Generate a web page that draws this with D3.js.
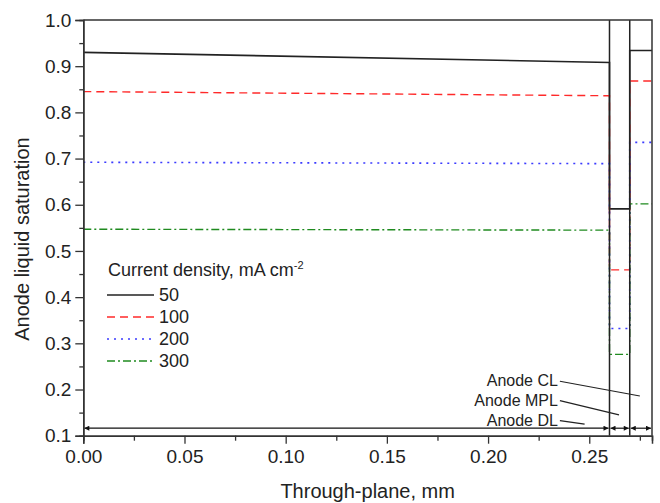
<!DOCTYPE html>
<html>
<head>
<meta charset="utf-8">
<script src="https://cdn.jsdelivr.net/npm/d3@7"></script>
<style>
  html, body { margin: 0; padding: 0; background: #fff; }
  svg { display: block; font-family: "Liberation Sans", Arial, sans-serif; }
</style>
</head>
<body>
<div id="chart"></div>
<script>
// Through-plane positions (mm): diffusion layer, microporous layer, catalyst layer
const xPos = [0, 0.26, 0.26, 0.27, 0.27, 0.281];

// Anode liquid saturation for each current density
const sat50  = [0.930, 0.908, 0.591, 0.591, 0.934, 0.934];
const sat100 = [0.845, 0.836, 0.459, 0.459, 0.868, 0.868];
const sat200 = [0.692, 0.689, 0.332, 0.332, 0.735, 0.735];
const sat300 = [0.547, 0.545, 0.276, 0.276, 0.602, 0.602];

const seriesNames = ["50", "100", "200", "300"];
const seriesValues = [sat50, sat100, sat200, sat300];

// Layer boundaries
const layerEdges = [0, 0.26, 0.27, 0.281];
const layerNames = ["Anode DL", "Anode MPL", "Anode CL"];

const yTicks = [0.1, 0.2, 0.3, 0.4, 0.5, 0.6, 0.7, 0.8, 0.9, 1.0];
const xTicks = [0.00, 0.05, 0.10, 0.15, 0.20, 0.25];

const width = 660, height = 503;
const margin = { top: 20, right: 8, bottom: 67.3, left: 83.3 };

const svg = d3.select("#chart").append("svg")
    .attr("width", width)
    .attr("height", height);

const x = d3.scaleLinear().domain([0, 0.281]).range([margin.left, width - margin.right]);
const y = d3.scaleLinear().domain([0.1, 1.0]).range([height - margin.bottom, margin.top]);

const styles = [
    { color: "#222", dash: null, w: 1.6 },
    { color: "#ff2a2a", dash: "8,5", w: 1.4 },
    { color: "#3b3bff", dash: "2,5", w: 1.6 },
    { color: "#1f8a1f", dash: "8,3,2,3", w: 1.4 }
];

// Arrow markers
const defs = svg.append("defs");
["start", "end"].forEach(k => {
    defs.append("marker")
        .attr("id", "arr-" + k)
        .attr("viewBox", "0 0 10 10")
        .attr("refX", k === "end" ? 10 : 0).attr("refY", 5)
        .attr("markerWidth", 7).attr("markerHeight", 5)
        .attr("markerUnits", "userSpaceOnUse")
        .attr("orient", "auto")
        .append("path")
        .attr("d", k === "end" ? "M0,0L10,5L0,10Z" : "M10,0L0,5L10,10Z")
        .attr("fill", "#111");
});

// Curves
const line = d3.line().x((d, i) => x(xPos[i])).y(d => y(d));
seriesValues.forEach((vals, i) => {
    svg.append("path")
        .datum(vals)
        .attr("d", line)
        .attr("fill", "none")
        .attr("stroke", styles[i].color)
        .attr("stroke-width", styles[i].w)
        .attr("stroke-dasharray", styles[i].dash);
});

// Layer boundary lines
layerEdges.slice(1, 3).forEach(e => {
    svg.append("line")
        .attr("x1", x(e)).attr("x2", x(e))
        .attr("y1", y(1.0)).attr("y2", y(0.1))
        .attr("stroke", "#222").attr("stroke-width", 1.5);
});

// Layer thickness arrows
const arrowY = y(0.1) - 7.5;
for (let i = 0; i < 3; i++) {
    svg.append("line")
        .attr("x1", x(layerEdges[i]) + 1).attr("x2", x(layerEdges[i + 1]) - 1)
        .attr("y1", arrowY).attr("y2", arrowY)
        .attr("stroke", "#111").attr("stroke-width", 1.2)
        .attr("marker-start", "url(#arr-start)")
        .attr("marker-end", "url(#arr-end)");
}

// Axes
const yAxis = d3.axisLeft(y).tickValues(yTicks).tickFormat(d3.format(".1f")).tickSize(8).tickPadding(4);
const yMinor = d3.axisLeft(y).tickValues(d3.range(0.15, 1.0, 0.1)).tickFormat("").tickSize(4);
const xAxis = d3.axisBottom(x).tickValues(xTicks).tickFormat(d3.format(".2f")).tickSize(8).tickPadding(6);
const xMinor = d3.axisBottom(x).tickValues(d3.range(0.025, 0.28, 0.05)).tickFormat("").tickSize(5);

function styleAxis(g) {
    g.select(".domain").attr("stroke", "#333").attr("stroke-width", 1.5);
    g.selectAll(".tick line").attr("stroke", "#333").attr("stroke-width", 1.3);
    g.selectAll(".tick text").attr("fill", "#222").style("font-size", "19px");
}

svg.append("g").attr("transform", `translate(${margin.left},0)`).call(yAxis).call(styleAxis);
svg.append("g").attr("transform", `translate(${margin.left},0)`).call(yMinor).call(styleAxis);
svg.append("g").attr("transform", `translate(0,${height - margin.bottom})`).call(xAxis).call(styleAxis);
svg.append("g").attr("transform", `translate(0,${height - margin.bottom})`).call(xMinor).call(styleAxis);

// Frame top and right
svg.append("path")
    .attr("d", `M${x(0)},${y(1)}H${x(0.281)}V${y(0.1)}`)
    .attr("fill", "none").attr("stroke", "#333").attr("stroke-width", 1.5);

// Axis titles
svg.append("text")
    .attr("x", (x(0) + x(0.281)) / 2).attr("y", 498)
    .attr("text-anchor", "middle")
    .style("font-size", "20px").attr("fill", "#222")
    .text("Through-plane, mm");

svg.append("text")
    .attr("transform", "translate(29,239) rotate(-90)")
    .attr("text-anchor", "middle")
    .style("font-size", "20px").attr("fill", "#222")
    .text("Anode liquid saturation");

// Legend
const legend = svg.append("g").attr("transform", "translate(107,276)");
const lt = legend.append("text").attr("x", 1).attr("y", 0)
    .style("font-size", "18px").attr("fill", "#222");
lt.append("tspan").text("Current density, mA cm");
lt.append("tspan").attr("dy", -7).style("font-size", "11px").text("-2");

seriesNames.forEach((name, i) => {
    const ry = 19 + i * 22;
    legend.append("line")
        .attr("x1", 0).attr("x2", 47)
        .attr("y1", ry).attr("y2", ry)
        .attr("stroke", styles[i].color)
        .attr("stroke-width", styles[i].w)
        .attr("stroke-dasharray", styles[i].dash);
    legend.append("text")
        .attr("x", 52).attr("y", ry + 6)
        .style("font-size", "18px").attr("fill", "#222")
        .text(name);
});

// Layer annotations: label position and leader target in data units
const annoLabelX = [0.2345, 0.2345, 0.2345];
const annoLabelY = [0.122, 0.165, 0.207];
const annoTargetX = [0.2477, 0.2647, 0.275];
const annoTargetY = [0.125, 0.145, 0.186];

layerNames.forEach((name, i) => {
    const tx = x(annoLabelX[i]), ty = y(annoLabelY[i]);
    svg.append("text")
        .attr("x", tx).attr("y", ty)
        .attr("text-anchor", "end")
        .style("font-size", "16px").attr("fill", "#222")
        .text(name);
    svg.append("line")
        .attr("x1", tx + 2).attr("y1", ty - 5)
        .attr("x2", x(annoTargetX[i])).attr("y2", y(annoTargetY[i]))
        .attr("stroke", "#222").attr("stroke-width", 1.2);
});
</script>
</body>
</html>
